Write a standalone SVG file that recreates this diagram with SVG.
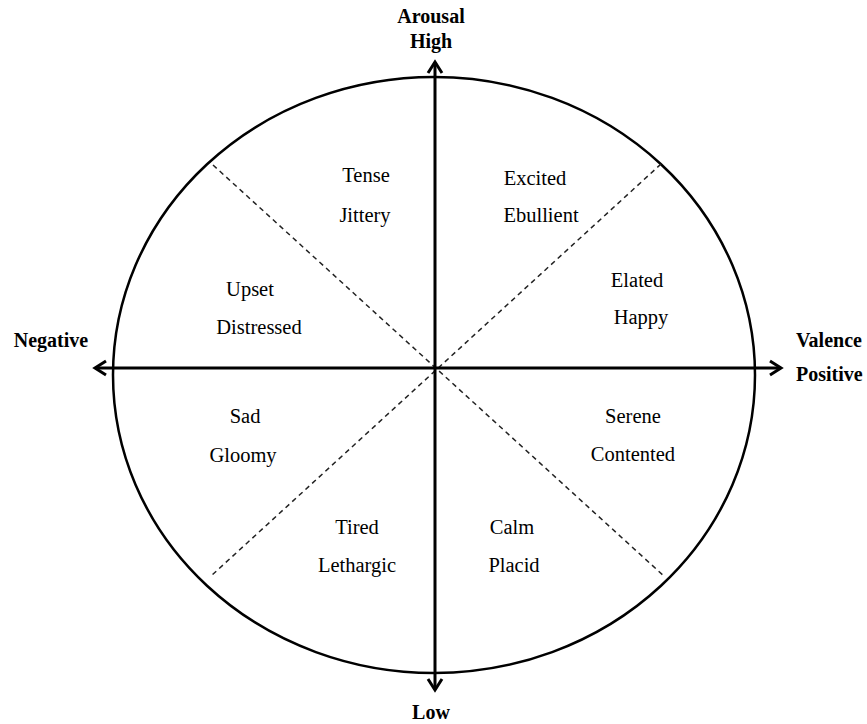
<svg xmlns="http://www.w3.org/2000/svg" width="867" height="724" viewBox="0 0 867 724">
<style>
  .axis{stroke:#000;stroke-width:3;fill:none}
  .head{stroke:#000;stroke-width:3;fill:none;stroke-linejoin:miter;stroke-linecap:butt}
  .dash{stroke:#222;stroke-width:1.5;stroke-dasharray:5 4;fill:none}
  .b{font-family:"Liberation Serif","Times New Roman",serif;font-weight:bold;font-size:20px;fill:#000}
  .t{font-family:"Liberation Serif","Times New Roman",serif;font-size:20.5px;fill:#000;text-anchor:middle}
</style>
<rect width="867" height="724" fill="#fff"/>
<g id="circle">
  <ellipse cx="434" cy="375" rx="321" ry="298" fill="none" stroke="#000" stroke-width="2.5"/>
</g>
<g id="connectors">
  <line class="dash" x1="213" y1="165" x2="665" y2="577"/>
  <line class="dash" x1="661" y1="164" x2="211" y2="576"/>
  <line class="axis" x1="435" y1="62" x2="435" y2="690"/>
  <line class="axis" x1="95" y1="368" x2="781" y2="368"/>
  <path class="head" d="M428,73 L435,62 L442,73"/>
  <path class="head" d="M428,679 L435,690 L442,679"/>
  <path class="head" d="M106,361 L95,368 L106,375"/>
  <path class="head" d="M770,361 L781,368 L770,375"/>
</g>
<g id="axis-labels">
  <text class="b" x="431" y="23" text-anchor="middle">Arousal</text>
  <text class="b" x="431" y="48" text-anchor="middle">High</text>
  <text class="b" x="431" y="719" text-anchor="middle">Low</text>
  <text class="b" x="51" y="347" text-anchor="middle">Negative</text>
  <text class="b" x="796" y="347">Valence</text>
  <text class="b" x="796" y="381">Positive</text>
</g>
<g id="tense"><text class="t" x="366" y="182">Tense</text><text class="t" x="365" y="222">Jittery</text></g>
<g id="excited"><text class="t" x="535" y="185">Excited</text><text class="t" x="541" y="222">Ebullient</text></g>
<g id="upset"><text class="t" x="250" y="296">Upset</text><text class="t" x="259" y="334">Distressed</text></g>
<g id="elated"><text class="t" x="637" y="287">Elated</text><text class="t" x="641" y="324">Happy</text></g>
<g id="sad"><text class="t" x="245" y="423">Sad</text><text class="t" x="243" y="462">Gloomy</text></g>
<g id="serene"><text class="t" x="633" y="423">Serene</text><text class="t" x="633" y="461">Contented</text></g>
<g id="tired"><text class="t" x="357" y="534">Tired</text><text class="t" x="357" y="572">Lethargic</text></g>
<g id="calm"><text class="t" x="512" y="534">Calm</text><text class="t" x="514" y="572">Placid</text></g>
</svg>
